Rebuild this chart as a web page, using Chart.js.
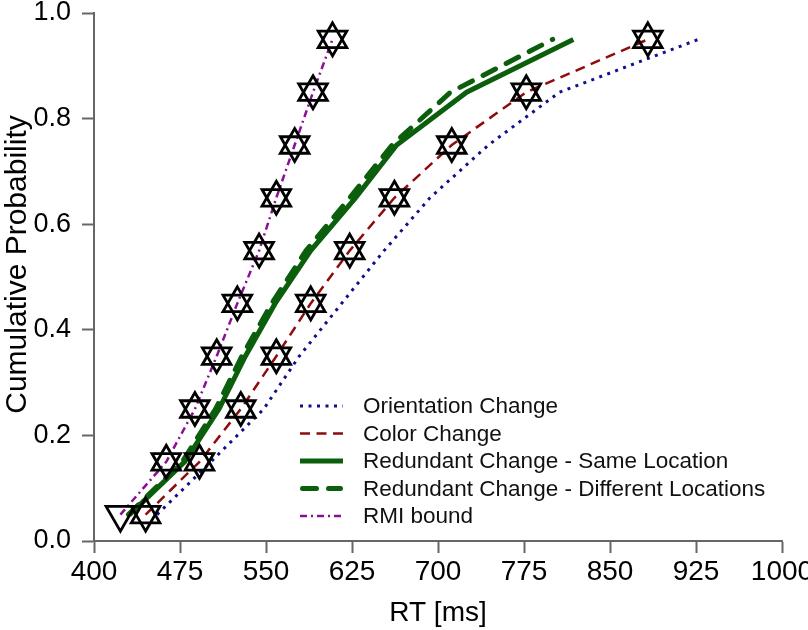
<!DOCTYPE html>
<html>
<head>
<meta charset="utf-8">
<title>Cumulative Probability vs RT</title>
<script src="https://cdn.jsdelivr.net/npm/chart.js@4.4.0/dist/chart.umd.min.js"></script>
<style>
    html, body { margin: 0; padding: 0; background: #fff; }
    #chartRT { display: block; }
</style>
</head>
<body>
<canvas id="chartRT" width="808" height="630"></canvas>
<script>
// quantile levels shared by every curve
const probLevels = [0.05, 0.15, 0.25, 0.35, 0.45, 0.55, 0.65, 0.75, 0.85, 0.95];

// RT [ms] at each quantile
const rtOrientation = [455, 502, 548, 579, 616, 653, 693, 744, 806, 927];
const rtColor       = [445, 492, 528, 559, 589, 623, 662, 712, 777, 883];
const rtSameLoc     = [431, 479, 509, 532, 558, 589, 628, 664, 725, 818];
const rtDiffLoc     = [430, 477, 506, 529, 555, 585, 623, 660, 711, 800];
const rtRmiBound    = [423, 463, 488, 507, 525, 544, 559, 575, 591, 608];

const seriesNames = [
    "Orientation Change",
    "Color Change",
    "Redundant Change - Same Location",
    "Redundant Change - Different Locations",
    "RMI bound"
];

const xTicks = [400, 475, 550, 625, 700, 775, 850, 925, 1000];
const yTicks = [0, 0.2, 0.4, 0.6, 0.8, 1.0];

const FONT = '"Liberation Sans", Arial, sans-serif';

const toPoints = xs => xs.map((x, i) => ({ x: x, y: probLevels[i] }));

// markers: a star is an up + a down triangle on the same point,
// the first RMI point only has the down triangle
const markDown = toPoints(rtRmiBound).concat(toPoints(rtColor));
const markUp   = toPoints(rtRmiBound).slice(1).concat(toPoints(rtColor));

const lineSets = [
    { label: seriesNames[0], data: toPoints(rtOrientation), borderColor: "#10108a", borderWidth: 3, borderDash: [3, 5.5] },
    { label: seriesNames[1], data: toPoints(rtColor),       borderColor: "#8e0c0c", borderWidth: 2.5, borderDash: [10, 6.5] },
    { label: seriesNames[2], data: toPoints(rtSameLoc),     borderColor: "#0b5e0b", borderWidth: 5 },
    { label: seriesNames[3], data: toPoints(rtDiffLoc),     borderColor: "#0b5e0b", borderWidth: 5, borderDash: [14, 12], borderCapStyle: "round" },
    { label: seriesNames[4], data: toPoints(rtRmiBound),    borderColor: "#8a0f95", borderWidth: 2.5, borderDash: [7, 4, 2, 4] }
];

lineSets.forEach((ds, i) => {
    ds.showLine = true;
    ds.pointRadius = 0;
    ds.tension = 0;
    ds.fill = false;
    ds.order = 2 + i;
});

const markerSets = [
    { label: "up", data: markUp, pointRotation: 0 },
    { label: "down", data: markDown, pointRotation: 180 }
];
markerSets.forEach(ds => {
    ds.showLine = false;
    ds.pointStyle = "triangle";
    ds.pointRadius = 16.5;
    ds.pointBorderWidth = 2.8;
    ds.pointBorderColor = "#000";
    ds.pointBackgroundColor = "rgba(0,0,0,0)";
    ds.order = 0;
});

// legend drawn inside the plot, lower right
const insideLegend = {
    id: "insideLegend",
    afterDraw(chart) {
        const ctx = chart.ctx;
        ctx.save();
        ctx.font = "22.5px " + FONT;
        ctx.textBaseline = "middle";
        lineSets.forEach((ds, i) => {
            const y = 406 + i * 27.5;
            ctx.beginPath();
            ctx.strokeStyle = ds.borderColor;
            ctx.lineWidth = ds.borderWidth;
            ctx.lineCap = ds.borderCapStyle || "butt";
            ctx.setLineDash(ds.borderDash || []);
            const inset = ds.borderCapStyle === "round" ? 2.5 : 0;
            ctx.moveTo(300 + inset, y);
            ctx.lineTo(343 - inset, y);
            ctx.stroke();
            ctx.setLineDash([]);
            ctx.fillStyle = "#111";
            ctx.fillText(ds.label, 363, y + 1);
        });
        ctx.restore();
    }
};

new Chart(document.getElementById("chartRT"), {
    type: "scatter",
    data: { datasets: markerSets.concat(lineSets) },
    options: {
        responsive: false,
        animation: false,
        events: [],
        layout: { autoPadding: false, padding: { top: 13, right: 26, left: 0, bottom: 0 } },
        plugins: {
            legend: { display: false },
            tooltip: { enabled: false }
        },
        scales: {
            x: {
                type: "linear",
                min: 400,
                max: 1000,
                afterBuildTicks: s => { s.ticks = xTicks.map(v => ({ value: v })); },
                afterFit: s => { s.height = 89; s.paddingLeft = 0; s.paddingRight = 0; },
                border: { display: true, color: "#666", width: 2 },
                grid: { display: true, drawOnChartArea: false, drawTicks: true, tickLength: 12, tickWidth: 2, tickColor: "#666" },
                ticks: { color: "#000", font: { family: FONT, size: 28 }, padding: 2, maxRotation: 0, callback: v => String(v) },
                title: { display: true, text: "RT [ms]", color: "#000", font: { family: FONT, size: 28 }, padding: { top: 0, bottom: 0 } }
            },
            y: {
                type: "linear",
                min: 0,
                max: 1,
                afterBuildTicks: s => { s.ticks = yTicks.map(v => ({ value: v })); },
                afterFit: s => { s.width = 94; s.paddingTop = 0; s.paddingBottom = 0; },
                border: { display: true, color: "#666", width: 2 },
                grid: { display: true, drawOnChartArea: false, drawTicks: true, tickLength: 12, tickWidth: 2, tickColor: "#666" },
                ticks: { color: "#000", font: { family: FONT, size: 27, lineHeight: 0.8 }, padding: 11, callback: v => v.toFixed(1) },
                title: { display: true, text: "\u00a0\u00a0\u00a0Cumulative Probability", color: "#000", font: { family: FONT, size: 30 }, padding: { top: 0, bottom: 0 } }
            }
        }
    },
    plugins: [insideLegend]
});
</script>
</body>
</html>
